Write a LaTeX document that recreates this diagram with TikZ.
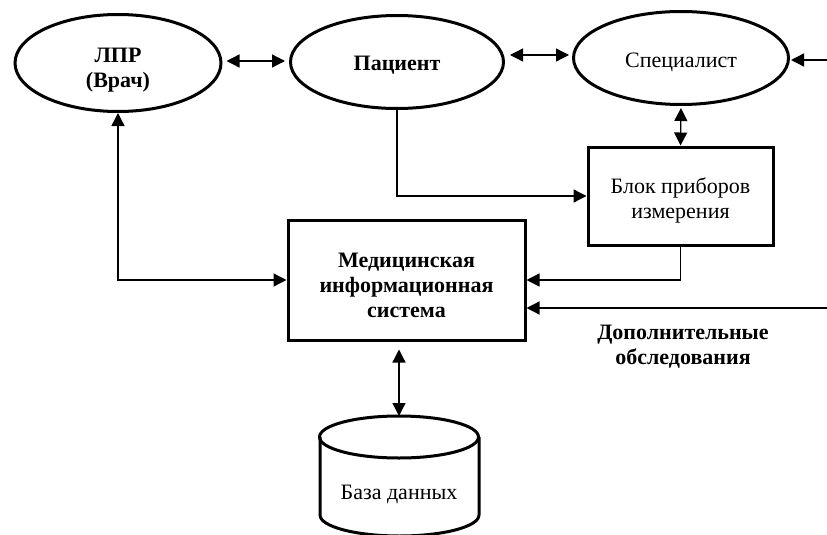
\documentclass[tikz,border=0pt]{standalone}
\usepackage{fontspec}
\setmainfont{Liberation Serif}
\usetikzlibrary{arrows.meta,calc,shapes.geometric}
\begin{document}
\begin{tikzpicture}[x=1pt,y=-1pt,
  every node/.style={font=\fontsize{22}{25}\selectfont, align=center},
  oval/.style={draw, line width=3pt, ellipse, inner sep=0pt},
  blockbox/.style={draw, line width=3pt, rectangle, inner sep=0pt},
  conn/.style={line width=1.3pt},
  tip/.style={-{Triangle[length=13pt,width=13pt]}},
  twotip/.style={{Triangle[length=13pt,width=13pt]}-{Triangle[length=13pt,width=13pt]}}
]
\useasboundingbox (0,0) rectangle (827,535);
% ellipses
\node[oval, minimum width=206pt, minimum height=97pt] (lpr) at (118,63) {};
\node[font=\fontsize{22}{25}\selectfont\bfseries] (lprt) at (118,70) {ЛПР\\(Врач)};
\node[oval, minimum width=213pt, minimum height=93pt] (pat) at (397,62) {};
\node[font=\fontsize{22}{25}\selectfont\bfseries] (patt) at (397,65) {Пациент};
\node[oval, minimum width=215pt, minimum height=93pt] (spec) at (681,58) {};
\node (spect) at (681,62) {Специалист};
% boxes
\node[blockbox, minimum width=185pt, minimum height=98pt] (blok) at (680.5,196) {};
\node (blokt) at (680.5,200) {Блок приборов\\измерения};
\node[blockbox, minimum width=237pt, minimum height=120pt] (mis) at (406.5,280) {};
\node[font=\fontsize{22}{25}\selectfont\bfseries] (mist) at (406.5,285) {Медицинская\\информационная\\система};
% database cylinder
\coordinate (dbtop) at (399,416);
\draw[line width=3pt, fill=white] (320,437) -- (320,515) arc[start angle=180, end angle=0, x radius=79.5, y radius=21] -- (479,437);
\draw[line width=3pt] (399,437) ellipse [x radius=79.5, y radius=21];
\node (db) at (399,494) {База данных};
% external label
\node[font=\fontsize{22}{25}\selectfont\bfseries] (dop) at (683,347) {Дополнительные\\обследования};
\coordinate (rin1) at (827,60);
\coordinate (rin2) at (827,308);
% connectors
\draw[conn, twotip] ($(lpr.east)+(4,-2)$) -- ($(pat.west |- 0,61)+(-4,0)$);
\draw[conn, twotip] ($(pat.east |- 0,55)+(5,0)$) -- ($(spec.west |- 0,55)+(-3,0)$);
\draw[conn, tip] (rin1) -- ($(spec.east |- rin1)+(1,0)$);
\draw[conn, twotip] ($(spec.south)+(0,2)$) -- (blok.north);
\draw[conn, tip] (pat.south) |- (blok.west);
\draw[conn, tip] (blok.south) |- (mis.east |- 0,280);
\draw[conn, twotip] (lpr.south) |- (mis.west |- 0,280);
\draw[conn, tip] (rin2) -- (mis.east |- 0,308);
\draw[conn, twotip] ($(mis.south)+(-7.5,8)$) -- (dbtop);
\end{tikzpicture}
\end{document}
